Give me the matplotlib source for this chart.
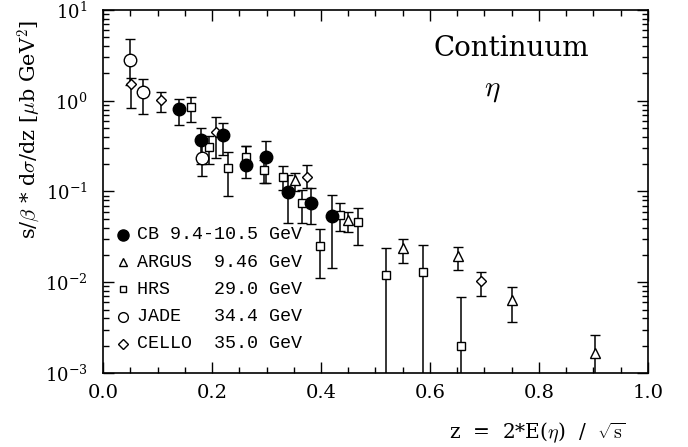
import numpy as np
import matplotlib
matplotlib.use("Agg")
import matplotlib.pyplot as plt
from matplotlib.ticker import MultipleLocator, FormatStrFormatter, LogLocator

plt.rcParams['font.family'] = 'serif'
plt.rcParams['font.serif'] = ['DejaVu Serif']
plt.rcParams['mathtext.fontset'] = 'cm'
plt.rcParams['axes.formatter.use_mathtext'] = True

# data: z, value, lower end, upper end of error bar
cb_z = [0.140, 0.180, 0.220, 0.262, 0.300, 0.340, 0.381, 0.421]
cb_y = [0.807, 0.371, 0.421, 0.196, 0.243, 0.0997, 0.0755, 0.0538]
cb_lo = [0.542, 0.20, 0.253, 0.140, 0.123, 0.045, 0.044, 0.0145]
cb_hi = [1.05, 0.507, 0.566, 0.321, 0.364, 0.152, 0.110, 0.0916]

argus_z = [0.352, 0.450, 0.551, 0.652, 0.751, 0.902]
argus_y = [0.134, 0.0486, 0.0237, 0.0195, 0.00638, 0.00165]
argus_lo = [0.100, 0.0361, 0.0162, 0.0137, 0.00365, 0.0009]
argus_hi = [0.161, 0.060, 0.030, 0.0247, 0.00881, 0.00262]

hrs_z = [0.161, 0.194, 0.229, 0.262, 0.296, 0.331, 0.365, 0.399, 0.434, 0.468, 0.519, 0.588, 0.657]
hrs_y = [0.849, 0.308, 0.181, 0.239, 0.173, 0.146, 0.0743, 0.0251, 0.0552, 0.0459, 0.0120, 0.0131, 0.0020]
hrs_lo = [0.59, 0.20, 0.0894, 0.19, 0.123, 0.104, 0.0454, 0.011, 0.037, 0.0258, 0.0001, 0.0001, 0.0001]
hrs_hi = [1.11, 0.41, 0.271, 0.32, 0.22, 0.193, 0.104, 0.0384, 0.0743, 0.0655, 0.0237, 0.0258, 0.00694]

jade_z = [0.049, 0.073, 0.181]
jade_y = [2.83, 1.25, 0.234]
jade_lo = [1.5, 0.72, 0.149]
jade_hi = [4.8, 1.74, 0.33]

cello_z = [0.051, 0.106, 0.208, 0.374, 0.694]
cello_y = [1.53, 1.02, 0.454, 0.145, 0.0102]
cello_lo = [0.835, 0.76, 0.234, 0.11, 0.00706]
cello_hi = [1.8, 1.26, 0.67, 0.196, 0.0131]

legend_labels = ['CB 9.4-10.5 GeV', 'ARGUS  9.46 GeV', 'HRS    29.0 GeV',
                 'JADE   34.4 GeV', 'CELLO  35.0 GeV']

W, H = 688, 447
fig = plt.figure(figsize=(W / 100, H / 100), dpi=100)
ax = fig.add_axes((103 / W, 74 / H, 545 / W, 363 / H))


def draw(z, y, lo, hi, marker, ms, filled):
    y = np.array(y)
    err = [y - np.array(lo), np.array(hi) - y]
    ax.errorbar(z, y, yerr=err, fmt=marker, ms=ms, color='black', ecolor='black',
                mfc='black' if filled else 'white', mec='black', mew=1.0,
                elinewidth=1.1, capsize=3.5, capthick=1.1, zorder=3)


draw(hrs_z, hrs_y, hrs_lo, hrs_hi, 's', 6, False)
draw(argus_z, argus_y, argus_lo, argus_hi, '^', 7, False)
draw(cello_z, cello_y, cello_lo, cello_hi, 'D', 5.5, False)
draw(jade_z, jade_y, jade_lo, jade_hi, 'o', 9, False)
draw(cb_z, cb_y, cb_lo, cb_hi, 'o', 9, True)

ax.set_yscale('log')
ax.set_xlim(0, 1.0)
ax.set_ylim(1e-3, 1e1)
ax.xaxis.set_major_locator(MultipleLocator(0.2))
ax.xaxis.set_minor_locator(MultipleLocator(0.05))
ax.xaxis.set_major_formatter(FormatStrFormatter('%.1f'))
ax.yaxis.set_major_locator(LogLocator(base=10, numticks=10))
ax.yaxis.set_minor_locator(LogLocator(base=10, subs=np.arange(2, 10), numticks=20))
ax.tick_params(which='both', direction='in', top=True, right=True, width=1.0)
ax.tick_params(which='major', length=8, labelsize=14)
ax.tick_params(axis='y', which='major', labelsize=13)
ax.tick_params(axis='x', which='major', pad=8)
ax.tick_params(axis='y', which='major', pad=11)
ax.tick_params(which='minor', length=4)
for s in ax.spines.values():
    s.set_linewidth(1.2)

ax.text(-0.136, 0.672, r's/$\beta$ * d$\sigma$/dz [$\mu$b GeV$^2$]', transform=ax.transAxes,
        fontsize=15, rotation=90, ha='center', va='center')
ax.text(0.958, -0.163, r'z  =  2*E($\eta$)  /  $\sqrt{\rm s}$', transform=ax.transAxes,
        fontsize=14.5, ha='right', va='center')

ax.text(0.750, 0.895, 'Continuum', transform=ax.transAxes, fontsize=20, ha='center', va='center')
ax.text(0.714, 0.78, r'$\eta$', transform=ax.transAxes, fontsize=21, ha='center', va='center')

# hand-made legend, monospaced so the columns line up like the original
leg_markers = [('o', 8, True), ('^', 6, False), ('s', 5, False), ('o', 7, False), ('D', 5, False)]
for i, label in enumerate(legend_labels):
    yy = (373 - (235 + 27.2 * i)) / 363
    m, ms, filled = leg_markers[i]
    ax.plot([(123 - 103) / 545], [yy], marker=m, ms=ms, color='black',
            mfc='black' if filled else 'white', mec='black', transform=ax.transAxes,
            linestyle='none', clip_on=False)
    ax.text((137 - 103) / 545, yy, label, transform=ax.transAxes, family='Liberation Mono',
            fontsize=13.2, va='center', ha='left')

fig.savefig('out.png', dpi=100)
